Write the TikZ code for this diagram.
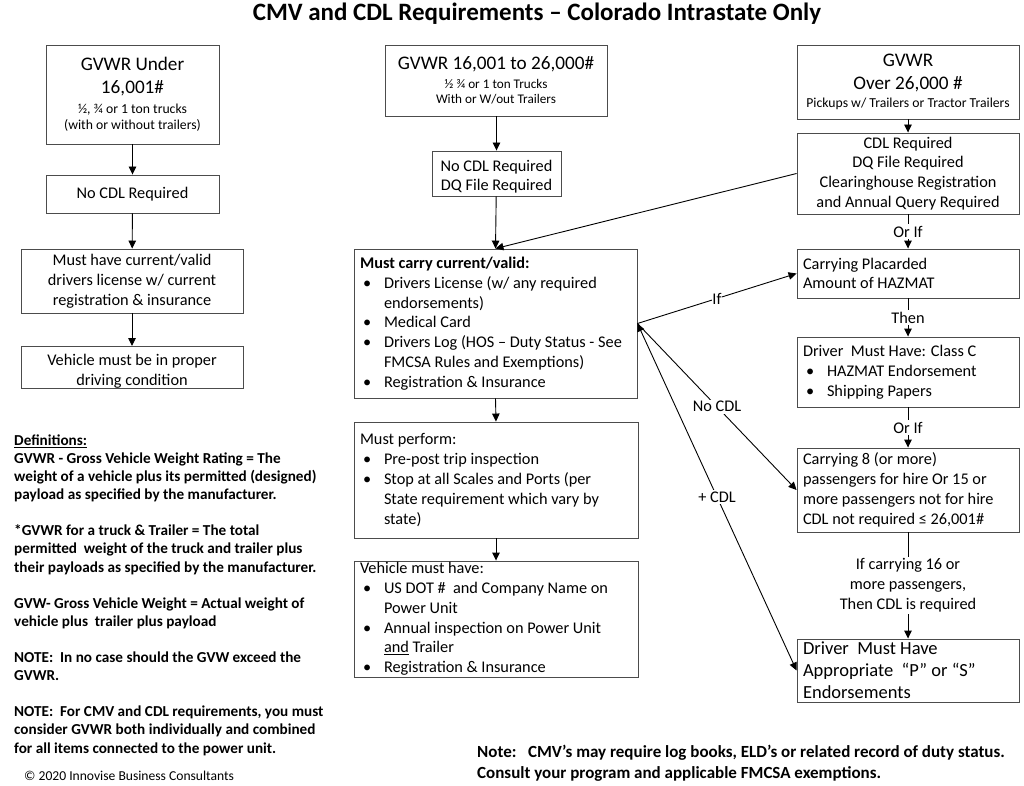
\documentclass[tikz,border=0pt]{standalone}
\usepackage{fontspec}
\setmainfont{Carlito}
\usetikzlibrary{arrows.meta}
\newcommand{\bul}[1]{\par\noindent\hangindent=24pt\hangafter=1\makebox[24pt][l]{\hspace{3pt}\textbullet}#1\par}
\newcommand{\fs}{\fontsize{16.3}{19.8}\selectfont}
\newcommand{\fbig}{\fontsize{19.2}{23}\selectfont}
\newcommand{\fsmall}{\fontsize{13.7}{16}\selectfont}
\tikzset{
  box/.style={draw=black!70, line width=0.9pt, rectangle, inner sep=0pt, font=\fs},
  lbox/.style={box, align=flush left},
  cbox/.style={box, align=center},
  ccbox/.style={box, align=flush center},
  arr/.style={draw=black, line width=0.9pt, -{Triangle[length=8pt,width=7.5pt]}},
  darr/.style={draw=black, line width=0.9pt, {Triangle[length=8pt,width=7.5pt]}-{Triangle[length=8pt,width=7.5pt]}},
  lbl/.style={fill=white, inner sep=1.5pt, font=\fs, align=center},
}
\begin{document}
\begin{tikzpicture}[x=1pt,y=-1pt]
\useasboundingbox[fill=white] (0,0) rectangle (1024,786);

\node[font=\bfseries\fontsize{25}{28}\selectfont] (title) at (537,14) {CMV and CDL Requirements -- Colorado Intrastate Only};

% left column
\node[ccbox, minimum width=173pt, minimum height=99pt, text width=165pt] (A) at (132.5,94.5)
  {{\fbig GVWR Under\\16,001\#\par}\vspace{4pt}{\fsmall ½, ¾ or 1 ton trucks\\(with or without trailers)\par}};
\node[cbox, minimum width=173pt, minimum height=38pt] (B) at (132.5,194) {No CDL Required};
\node[cbox, minimum width=222pt, minimum height=64pt] (C) at (132,281)
  {Must have current/valid\\drivers license w/ current\\registration \& insurance};
\node[cbox, minimum width=222pt, minimum height=41pt] (D) at (132,367.5)
  {\rule{0pt}{19.5pt}Vehicle must be in proper\\driving condition};
\draw[arr] (A) -- (B);
\draw[arr] (B) -- (C);
\draw[arr] (C) -- (D);

% middle column
\node[ccbox, minimum width=222pt, minimum height=71pt, text width=214pt] (E) at (496,80.5)
  {{\fbig GVWR 16,001 to 26,000\#\par}\vspace{4pt}{\fontsize{13.2}{15.2}\selectfont ½ ¾ or 1 ton Trucks\\With or W/out Trailers\par}};
\node[cbox, minimum width=129pt, minimum height=45pt] (F) at (496.5,173.5)
  {\rule{0pt}{17.5pt}No CDL Required\\DQ File Required};
\node[lbox, minimum width=283pt, minimum height=149pt, text width=271pt] (G) at (495.5,323.5)
  {\noindent{\bfseries Must carry current/valid:}
   \bul{Drivers License (w/ any required\newline endorsements)}
   \bul{Medical Card}
   \bul{Drivers Log (HOS -- Duty Status - See\newline FMCSA Rules and Exemptions)}
   \bul{Registration \& Insurance}};
\node[lbox, minimum width=284pt, minimum height=116pt, text width=272pt] (H) at (496,480)
  {\noindent Must perform:
   \bul{Pre-post trip inspection}
   \bul{Stop at all Scales and Ports (per\newline State requirement which vary by\newline state)}};
\node[lbox, minimum width=284pt, minimum height=116pt, text width=272pt] (I) at (496,619)
  {\noindent Vehicle must have:
   \bul{US DOT \#\ \ and Company Name on\newline Power Unit}
   \bul{Annual inspection on Power Unit\newline \underline{and} Trailer}
   \bul{Registration \& Insurance}};
\draw[arr] (E.south -| F.north) -- (F.north);
\draw[arr] (F) -- (G.north);
\draw[arr] (G.south) -- (H.north);
\draw[arr] (H) -- (I);

% right column
\node[ccbox, minimum width=222pt, minimum height=74pt, text width=220pt] (J) at (908,82)
  {{\fbig GVWR\\Over 26,000 \#\par}\vspace{2.5pt}{\fsmall Pickups w/ Trailers or Tractor Trailers\par}};
\node[cbox, minimum width=222pt, minimum height=81pt] (K) at (908,173.5)
  {CDL Required\\DQ File Required\\Clearinghouse Registration\\and Annual Query Required};
\node[lbox, minimum width=222pt, minimum height=49pt, text width=210pt] (L) at (908,273.5)
  {Carrying Placarded\\Amount of HAZMAT};
\node[lbox, minimum width=222pt, minimum height=70pt, text width=210pt] (M) at (908,372)
  {\noindent Driver\ \ Must Have: Class C
   \bul{HAZMAT Endorsement}
   \bul{Shipping Papers}};
\node[lbox, minimum width=222pt, minimum height=84pt, text width=210pt] (N) at (908,490)
  {Carrying 8 (or more)\\passengers for hire Or 15 or\\more passengers not for hire\\CDL not required ≤ 26,001\#};
\node[lbox, minimum width=222pt, minimum height=63pt, text width=210pt, font=\fontsize{18.5}{22}\selectfont] (O) at (908,670.5)
  {Driver\ \ Must Have\\Appropriate\ \ “P” or “S”\\Endorsements};
\draw[arr] (J) -- (K);
\draw[arr] (K) -- node[lbl] (l1) {Or If} (L);
\draw[arr] (L) -- node[lbl] (l2) {Then} (M);
\draw[arr] (M) -- node[lbl] (l3) {Or If} (N);
\draw[arr] (N) -- node[lbl] (l4) {If carrying 16 or\\ more passengers,\\Then CDL is required} (O);

% cross connectors
\draw[arr] (K.west) -- (G.north);
\draw[arr] (G.east) -- node[lbl, inner sep=0.5pt] (l5) {If} (L.west);
\draw[arr] (G.east) -- node[lbl] (l6) {No CDL} (N.west);
\draw[darr] (G.east) -- node[lbl] (l7) {+ CDL} (O.west);

% definitions
\node[anchor=north west, inner sep=0pt, align=left, font=\bfseries\fontsize{15.2}{18.1}\selectfont] (defs) at (14,434.5)
  {\underline{Definitions:}\\
   GVWR - Gross Vehicle Weight Rating = The\\
   weight of a vehicle plus its permitted (designed)\\
   payload as specified by the manufacturer.\\[18.1pt]
   *GVWR for a truck \& Trailer = The total\\
   permitted\ \ weight of the truck and trailer plus\\
   their payloads as specified by the manufacturer.\\[18.1pt]
   GVW- Gross Vehicle Weight = Actual weight of\\
   vehicle plus\ \ trailer plus payload\\[18.1pt]
   NOTE:\ \ In no case should the GVW exceed the\\
   GVWR.\\[18.1pt]
   NOTE:\ \ For CMV and CDL requirements, you must\\
   consider GVWR both individually and combined\\
   for all items connected to the power unit.};
\node[anchor=west, inner sep=0pt, font=\fontsize{13.6}{15}\selectfont] (copy) at (24,776)
  {© 2020 Innovise Business Consultants};

\node[anchor=north west, inner sep=0pt, align=left, font=\bfseries\fontsize{17}{21}\selectfont] (note) at (477,745)
  {Note:\ \ \ CMV’s may require log books, ELD’s or related record of duty status.\\
   Consult your program and applicable FMCSA exemptions.};
\end{tikzpicture}
\end{document}
